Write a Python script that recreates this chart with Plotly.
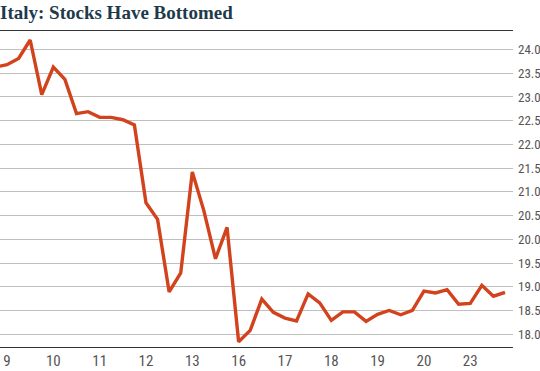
import plotly.graph_objects as go

title_text = "Italy: Stocks Have Bottomed"
values = [23.63, 23.68, 23.81, 24.20, 23.05, 23.63, 23.37, 22.65, 22.69, 22.57,
          22.57, 22.52, 22.41, 20.77, 20.42, 18.89, 19.29, 21.42, 20.60, 19.59,
          20.25, 17.84, 18.08, 18.74, 18.46, 18.34, 18.28, 18.85, 18.66, 18.29,
          18.47, 18.47, 18.27, 18.42, 18.50, 18.41, 18.50, 18.91, 18.87, 18.94,
          18.63, 18.65, 19.03, 18.80, 18.88]
x_idx = list(range(len(values)))
tick_pos = [1, 5, 9, 13, 17, 21, 25, 29, 33, 37, 41]
tick_labels = ["9", "10", "11", "12", "13", "16", "17", "18", "19", "20", "23"]
y_ticks = [18.0, 18.5, 19.0, 19.5, 20.0, 20.5, 21.0, 21.5, 22.0, 22.5, 23.0, 23.5, 24.0]

cond_font = "Liberation Sans Narrow, Roboto Condensed, Arial Narrow, Roboto, sans-serif"

fig = go.Figure()
fig.add_trace(go.Scatter(
    x=x_idx, y=values, mode="lines",
    line=dict(color="#d2431d", width=3.4),
    hoverinfo="skip", showlegend=False,
))

fig.update_layout(
    width=540, height=371,
    margin=dict(l=0, r=27, t=31, b=24),
    paper_bgcolor="white", plot_bgcolor="white",
    title=dict(
        text="<b>" + title_text + "</b>",
        x=0, xanchor="left", xref="paper",
        y=0.985, yanchor="top", yref="container",
        font=dict(family="Liberation Serif, DejaVu Serif, serif", size=19, color="#1e3a4b"),
        pad=dict(l=0, t=0, b=0),
    ),
    xaxis=dict(
        range=[0.395, 44.69],
        tickmode="array", tickvals=tick_pos, ticktext=tick_labels,
        showgrid=False, zeroline=False,
        showline=True, linecolor="#333333", linewidth=1.3, mirror=True,
        ticks="", tickfont=dict(family=cond_font, size=15, color="#555555"),
    ),
    yaxis=dict(
        range=[17.73, 24.39], side="right",
        tickmode="array", tickvals=y_ticks,
        ticktext=[f"{v:.1f}" for v in y_ticks],
        showgrid=True, gridcolor="#bfbfbf", gridwidth=1,
        zeroline=False, showline=False, ticks="",
        tickfont=dict(family=cond_font, size=13, color="#555555"),
        ticklabelstandoff=4,
    ),
)

fig.write_html("out.html")
